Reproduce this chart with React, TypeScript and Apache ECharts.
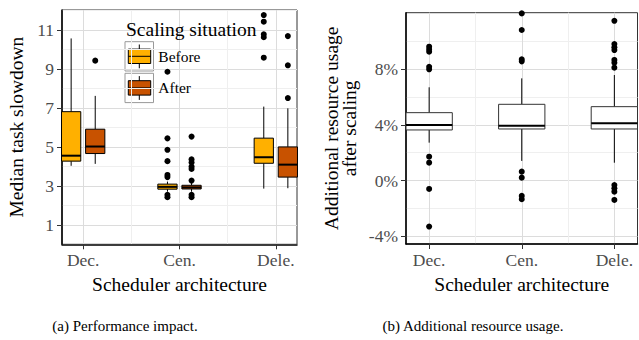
import React, { useEffect, useRef } from "react";
import * as echarts from "echarts";

// ---------- data ----------
const categories = ["Dec.", "Cen.", "Dele."];

// Left panel: median task slowdown, [lowerWhisker, Q1, median, Q3, upperWhisker]
const slowdownBefore = [
  [4.03, 4.27, 4.55, 6.81, 10.57],
  [2.7, 2.83, 2.95, 3.09, 3.22],
  [2.86, 4.16, 4.47, 5.45, 7.07],
];
const slowdownAfter = [
  [4.13, 4.66, 5.02, 5.91, 7.62],
  [2.7, 2.84, 2.92, 3.03, 3.15],
  [2.88, 3.45, 4.09, 5.0, 6.98],
];
const slowdownBeforeOutliers = [
  [],
  [8.86, 5.44, 4.85, 4.27, 3.56, 3.45, 2.54, 2.42],
  [11.77, 11.43, 10.78, 10.63, 9.58],
];
const slowdownAfterOutliers = [
  [9.43],
  [5.53, 4.36, 4.2, 3.99, 3.87, 3.27, 2.54, 2.42],
  [10.69, 9.19, 7.51],
];
const slowdownTicks = [1, 3, 5, 7, 9, 11];
const slowdownMinor = [0, 2, 4, 6, 8, 10, 12];

// Right panel: additional resource usage (%)
const usageStats = [
  [2.72, 3.63, 3.99, 4.87, 6.69],
  [1.41, 3.7, 3.94, 5.47, 7.33],
  [1.28, 3.7, 4.11, 5.3, 7.57],
];
const usageOutliers = [
  [9.6, 9.41, 9.24, 8.16, 7.98, 1.71, 1.28, -0.6, -3.3],
  [11.99, 10.8, 8.7, 8.55, 0.64, 0.21, -1.1, -1.34],
  [11.46, 9.79, 9.56, 9.36, 8.65, 8.45, 8.1, -0.32, -0.55, -0.8, -1.39],
];
const usageTicks = [-4, 0, 4, 8];
const usageMinor = [-2, 2, 6, 10];

const legendNames = ["Before", "After"];
const legendTitle = "Scaling situation";
const captions = ["(a) Performance impact.", "(b) Additional resource usage."];

// ---------- styles ----------
const FONT = "Liberation Serif";
const BEFORE_COLOR = "#FFB000";
const AFTER_COLOR = "#C85200";
const MAJOR = "#dcdcdc";
const MINOR = "#efefef";

function boxSeries(
  name: string,
  stats: number[][],
  offset: number,
  width: number,
  fill: string,
  stroke: string,
  axisIdx: number
) {
  return {
    type: "custom",
    name,
    xAxisIndex: axisIdx,
    yAxisIndex: axisIdx,
    z: 3,
    encode: { x: 0, y: [1, 2, 3, 4, 5] },
    data: stats.map((s, i) => [i + 1, ...s]),
    renderItem: (params: any, api: any) => {
      const x = api.value(0) + offset;
      const lo = api.coord([x, api.value(1)]);
      const q1 = api.coord([x, api.value(2)]);
      const md = api.coord([x, api.value(3)]);
      const q3 = api.coord([x, api.value(4)]);
      const hi = api.coord([x, api.value(5)]);
      const left = api.coord([x - width / 2, api.value(3)])[0];
      const right = api.coord([x + width / 2, api.value(3)])[0];
      const ls = { stroke: "#000", lineWidth: 1 };
      return {
        type: "group",
        children: [
          { type: "line", shape: { x1: lo[0], y1: lo[1], x2: q1[0], y2: q1[1] }, style: ls },
          { type: "line", shape: { x1: q3[0], y1: q3[1], x2: hi[0], y2: hi[1] }, style: ls },
          {
            type: "rect",
            shape: { x: left, y: q3[1], width: right - left, height: q1[1] - q3[1] },
            style: { fill, stroke, lineWidth: 1 },
          },
          {
            type: "line",
            shape: { x1: left, y1: md[1], x2: right, y2: md[1] },
            style: { stroke: "#000", lineWidth: 2 },
          },
        ],
      };
    },
  };
}

function outlierSeries(name: string, groups: number[][], offset: number, axisIdx: number) {
  const data: number[][] = [];
  groups.forEach((g, i) => g.forEach((v) => data.push([i + 1 + offset, v])));
  return {
    type: "scatter",
    name,
    xAxisIndex: axisIdx,
    yAxisIndex: axisIdx,
    z: 4,
    symbol: "circle",
    symbolSize: 6,
    itemStyle: { color: "#000", opacity: 1 },
    data,
  };
}

const tickLabelStyle = { color: "#4d4d4d", fontSize: 17.5, fontFamily: FONT };
const titleStyle = { color: "#000", fontSize: 19.5, fontFamily: FONT };

function mainX(gridIndex: number, min: number, max: number) {
  return {
    type: "value",
    gridIndex,
    min,
    max,
    axisLine: { show: true, onZero: false, lineStyle: { color: "#000", width: 1.5 } },
    axisTick: { show: true, customValues: [1, 2, 3], length: 5, lineStyle: { color: "#333" } },
    axisLabel: {
      show: true,
      customValues: [1, 2, 3],
      formatter: (v: number) => categories[Math.round(v) - 1] ?? "",
      margin: 7,
      ...tickLabelStyle,
    },
    splitLine: { show: true, lineStyle: { color: MAJOR, width: 1 } },
    name: "Scheduler architecture",
    nameLocation: "middle",
    nameGap: 30,
    nameTextStyle: titleStyle,
  };
}
function minorX(gridIndex: number, min: number, max: number) {
  return {
    type: "value",
    gridIndex,
    min,
    max,
    axisLine: { show: false },
    axisTick: { show: false, customValues: [1.5, 2.5] },
    axisLabel: { show: false, customValues: [1.5, 2.5] },
    splitLine: { show: true, lineStyle: { color: MINOR, width: 1 } },
  };
}
function mainY(gridIndex: number, min: number, max: number, ticks: number[], fmt: (v: number) => string, name: string, nameGap: number) {
  return {
    type: "value",
    gridIndex,
    position: "left",
    min,
    max,
    axisLine: { show: true, onZero: false, lineStyle: { color: "#000", width: 1.5 } },
    axisTick: { show: true, customValues: ticks, length: 5, lineStyle: { color: "#333" } },
    axisLabel: { show: true, customValues: ticks, formatter: fmt, margin: 8, ...tickLabelStyle },
    splitLine: { show: true, lineStyle: { color: MAJOR, width: 1 } },
    name,
    nameLocation: "middle",
    nameGap,
    nameTextStyle: { ...titleStyle, lineHeight: 18 },
  };
}
function minorY(gridIndex: number, min: number, max: number, ticks: number[]) {
  return {
    type: "value",
    gridIndex,
    position: "right",
    min,
    max,
    axisLine: { show: false },
    axisTick: { show: false, customValues: ticks },
    axisLabel: { show: false, customValues: ticks },
    splitLine: { show: true, lineStyle: { color: MINOR, width: 1 } },
  };
}

function textTitle(text: string, left: number, top: number, size: number, align: string) {
  return {
    text,
    left,
    top,
    padding: 0,
    textAlign: align,
    textVerticalAlign: "middle",
    textStyle: { fontFamily: FONT, fontSize: size, fontWeight: "normal", color: "#000" },
  };
}

function legendGraphic() {
  const children: any[] = [];
  const colors = [BEFORE_COLOR, AFTER_COLOR];
  legendNames.forEach((n, i) => {
    const top = 41.7 + i * 31.6;
    const cx = 139.3;
    children.push(
      { type: "rect", shape: { x: 125, y: top, width: 28.5, height: 29.3 }, style: { fill: "#fff", stroke: "#999", lineWidth: 1 } },
      { type: "line", shape: { x1: cx, y1: top + 2.8, x2: cx, y2: top + 26.6 }, style: { stroke: "#000", lineWidth: 1 } },
      { type: "rect", shape: { x: 128.3, y: top + 7.4, width: 22.4, height: 14.4 }, style: { fill: colors[i], stroke: "#000", lineWidth: 1 } },
      { type: "line", shape: { x1: 128.3, y1: top + 14.6, x2: 150.7, y2: top + 14.6 }, style: { stroke: "#000", lineWidth: 1 } }
    );
  });
  return { type: "group", z: 10, children };
}

export default function App() {
  const ref = useRef<HTMLDivElement>(null);
  useEffect(() => {
    if (!ref.current) return;
    const chart = echarts.init(ref.current, null, { renderer: "svg" });
    const option: any = {
      animation: false,
      backgroundColor: "#fff",
      title: [
        textTitle(legendTitle, 126, 29, 19.5, "left"),
        textTitle(legendNames[0], 158.3, 56.3, 15.5, "left"),
        textTitle(legendNames[1], 158.3, 87.9, 15.5, "left"),
        textTitle(captions[0], 125, 326, 15, "center"),
        textTitle(captions[1], 473, 326, 15, "center"),
      ],
      grid: [
        { left: 62, top: 10, width: 235, height: 234.3, show: true, borderColor: "#333", borderWidth: 1, backgroundColor: "transparent" },
        { left: 406, top: 12.7, width: 231.5, height: 231.3, show: true, borderColor: "#333", borderWidth: 1, backgroundColor: "transparent" },
      ],
      xAxis: [mainX(0, 0.78, 3.22), minorX(0, 0.78, 3.22), mainX(1, 0.75, 3.25), minorX(1, 0.75, 3.25)],
      yAxis: [
        mainY(0, 0, 12.03, slowdownTicks, (v) => String(v), "Median task slowdown", 37),
        minorY(0, 0, 12.03, slowdownMinor),
        mainY(1, -4.55, 12.04, usageTicks, (v) => `${v}%`, "Additional resource usage\nafter scaling", 48),
        minorY(1, -4.55, 12.04, usageMinor),
      ],
      series: [
        boxSeries("Before", slowdownBefore, -0.125, 0.2, BEFORE_COLOR, "#000", 0),
        boxSeries("After", slowdownAfter, 0.125, 0.2, AFTER_COLOR, "#000", 0),
        outlierSeries("Before outliers", slowdownBeforeOutliers, -0.125, 0),
        outlierSeries("After outliers", slowdownAfterOutliers, 0.125, 0),
        boxSeries("Usage", usageStats, 0, 0.5, "#fff", "#333", 2),
        outlierSeries("Usage outliers", usageOutliers, 0, 2),
      ],
      graphic: [legendGraphic()],
    };
    chart.setOption(option);
    return () => chart.dispose();
  }, []);
  return <div ref={ref} style={{ position: "absolute", left: 0, top: 0, width: 639, height: 340 }} />;
}
